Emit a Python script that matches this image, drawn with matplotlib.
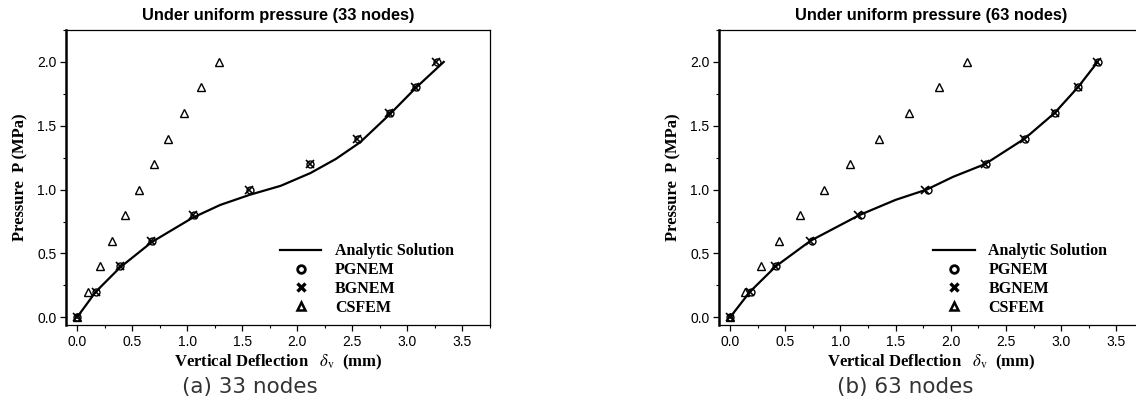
import matplotlib
matplotlib.use("Agg")
import matplotlib.pyplot as plt
from matplotlib.ticker import MultipleLocator
from matplotlib.lines import Line2D

plt.rcParams['mathtext.fontset'] = 'stix'

# ---------------- data ----------------
pressure = [0.0, 0.2, 0.4, 0.6, 0.8, 1.0, 1.2, 1.4, 1.6, 1.8, 2.0]

# (a) 33 nodes
a_analytic_defl = [0.0, 0.17, 0.39, 0.68, 1.05, 1.30, 1.57, 1.85, 2.12, 2.35, 2.57, 2.84, 3.08, 3.33]
a_analytic_p    = [0.0, 0.20, 0.39, 0.59, 0.78, 0.88, 0.96, 1.03, 1.13, 1.24, 1.37, 1.59, 1.80, 2.00]
a_pgnem = [0.0, 0.17, 0.39, 0.68, 1.06, 1.57, 2.12, 2.55, 2.84, 3.08, 3.27]
a_bgnem = [0.0, 0.17, 0.39, 0.67, 1.05, 1.56, 2.12, 2.54, 2.83, 3.07, 3.26]
a_csfem = [0.0, 0.10, 0.21, 0.32, 0.44, 0.56, 0.70, 0.83, 0.97, 1.13, 1.29]

# (b) 63 nodes
b_analytic_defl = [0.0, 0.18, 0.415, 0.73, 1.17, 1.50, 1.78, 2.02, 2.31, 2.67, 2.94, 3.15, 3.33]
b_analytic_p    = [0.0, 0.20, 0.40, 0.60, 0.80, 0.92, 1.00, 1.10, 1.20, 1.40, 1.60, 1.80, 2.00]
b_pgnem = [0.0, 0.19, 0.42, 0.74, 1.19, 1.79, 2.32, 2.67, 2.94, 3.15, 3.33]
b_bgnem = [0.0, 0.18, 0.41, 0.72, 1.16, 1.77, 2.31, 2.66, 2.94, 3.15, 3.32]
b_csfem = [0.0, 0.14, 0.28, 0.445, 0.63, 0.85, 1.085, 1.35, 1.62, 1.89, 2.15]

titles = ["Under uniform pressure (33 nodes)", "Under uniform pressure (63 nodes)"]
captions = ["(a) 33 nodes", "(b) 63 nodes"]
legend_labels = ["Analytic Solution", "PGNEM", "BGNEM", "CSFEM"]
xticks = [0.0, 0.5, 1.0, 1.5, 2.0, 2.5, 3.0, 3.5]
yticks = [0.0, 0.5, 1.0, 1.5, 2.0]

W, H = 1136, 403
fig = plt.figure(figsize=(W / 100, H / 100), dpi=100)

def px_rect(x0, x1, ytop, ybot):
    return [x0 / W, 1 - ybot / H, (x1 - x0) / W, (ybot - ytop) / H]

ax_a = fig.add_axes(px_rect(66, 490, 30, 325))
ax_b = fig.add_axes(px_rect(719, 1144, 30, 325))

serif_b = dict(family='Liberation Serif', weight='bold')

panels = [
    (ax_a, a_analytic_defl, a_analytic_p, a_pgnem, a_bgnem, a_csfem),
    (ax_b, b_analytic_defl, b_analytic_p, b_pgnem, b_bgnem, b_csfem),
]

for i, (ax, ad, ap, pg, bg, cs) in enumerate(panels):
    ax.plot(ad, ap, color='black', lw=1.6, zorder=2)
    ax.plot(pg, pressure, ls='none', marker='o', ms=5.0, mfc='none', mec='black', mew=1.0, zorder=3)
    ax.plot(bg, pressure, ls='none', marker='x', ms=5.2, mec='black', mew=1.2, zorder=3)
    ax.plot(cs, pressure, ls='none', marker='^', ms=5.4, mfc='none', mec='black', mew=1.0, zorder=3)

    ax.set_xlim(-0.1, 3.75)
    ax.set_ylim(-0.06, 2.25)
    ax.set_xticks(xticks)
    ax.set_yticks(yticks)
    ax.xaxis.set_minor_locator(MultipleLocator(0.25))
    ax.yaxis.set_minor_locator(MultipleLocator(0.25))
    ax.tick_params(which='major', direction='out', length=4, width=0.9, labelsize=10, pad=3)
    ax.tick_params(which='minor', direction='out', length=2.5, width=0.8)
    ax.set_xticklabels([f"{v:.1f}" for v in xticks], family='Liberation Sans')
    ax.set_yticklabels([f"{v:.1f}" for v in yticks], family='Liberation Sans')
    for s in ['top', 'right', 'bottom']:
        ax.spines[s].set_linewidth(0.9)
    ax.spines['left'].set_linewidth(1.8)

    ax.set_title(titles[i], family='Liberation Sans', weight='bold', fontsize=11.8, pad=7)
    ax.set_xlabel(r"Vertical Deflection   $\delta_{\rm v}$  (mm)", fontsize=12, labelpad=3, **serif_b)
    ax.set_ylabel(r"Pressure  P (MPa)", fontsize=12, labelpad=6, **serif_b)

    handles = [
        Line2D([], [], color='black', lw=1.6),
        Line2D([], [], ls='none', marker='o', ms=5.5, mfc='none', mec='black', mew=2.0),
        Line2D([], [], ls='none', marker='x', ms=6, mec='black', mew=2.4),
        Line2D([], [], ls='none', marker='^', ms=6, mfc='none', mec='black', mew=1.8),
    ]
    ax.legend(handles, legend_labels, loc='upper left', bbox_to_anchor=(0.478, 0.315),
              frameon=False, prop=dict(family='Liberation Serif', weight='bold', size=11.5),
              handlelength=2.6, handletextpad=0.85, labelspacing=0.18, borderpad=0.2)

fig.text(250 / W, 1 - 387 / H, captions[0], ha='center', va='center', fontsize=15.5,
         family='DejaVu Sans', color='#333333')
fig.text(905 / W, 1 - 387 / H, captions[1], ha='center', va='center', fontsize=15.5,
         family='DejaVu Sans', color='#333333')

fig.savefig("out.png", dpi=100)
